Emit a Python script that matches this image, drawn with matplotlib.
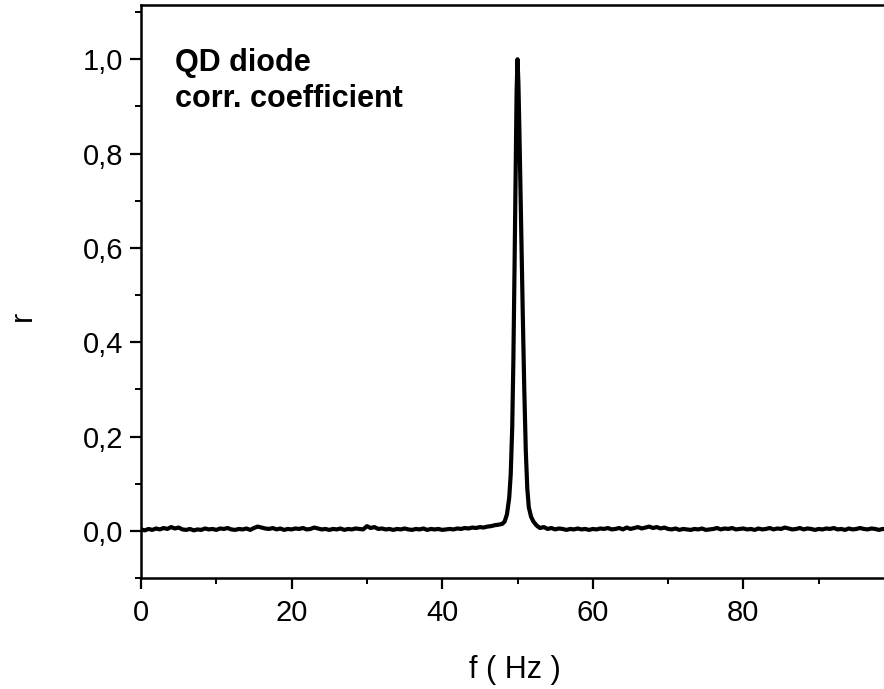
import numpy as np
import matplotlib.pyplot as plt
from matplotlib.ticker import MultipleLocator, FixedLocator, FuncFormatter

# baseline of the correlation coefficient, 0.5 Hz steps
base_left_start = 0.0
base_left = [
    0.003, 0.001, 0.004, 0.002, 0.005, 0.003, 0.006, 0.004, 0.008, 0.005,
    0.007, 0.003, 0.002, 0.004, 0.001, 0.003, 0.002, 0.005, 0.003, 0.004,
    0.002, 0.005, 0.004, 0.006, 0.003, 0.002, 0.004, 0.003, 0.005, 0.002,
    0.006, 0.009, 0.007, 0.005, 0.004, 0.006, 0.003, 0.005, 0.002, 0.004,
    0.003, 0.005, 0.004, 0.006, 0.003, 0.004, 0.007, 0.005, 0.003, 0.004,
    0.002, 0.004, 0.003, 0.005, 0.002, 0.004, 0.003, 0.005, 0.004, 0.003,
    0.010, 0.006, 0.008, 0.004, 0.005, 0.003, 0.004, 0.002, 0.004, 0.003,
    0.005, 0.003, 0.002, 0.004, 0.003, 0.005, 0.002, 0.004, 0.003, 0.004,
    0.002, 0.003, 0.004, 0.003, 0.005, 0.004, 0.006, 0.005, 0.007, 0.006,
    0.008, 0.007, 0.009, 0.010, 0.012, 0.013, 0.015,
]

# resonance peak around 50 Hz
peak_f = [48.3, 48.6, 48.9, 49.1, 49.3, 49.45, 49.6, 49.75, 49.88, 50.0,
          50.12, 50.25, 50.4, 50.55, 50.7, 50.9, 51.1, 51.3, 51.5, 51.8,
          52.1, 52.5, 52.8]
peak_r = [0.020, 0.035, 0.07, 0.12, 0.22, 0.36, 0.55, 0.76, 0.93, 1.0,
          0.95, 0.85, 0.72, 0.60, 0.46, 0.30, 0.17, 0.09, 0.05, 0.03,
          0.02, 0.012, 0.008]

base_right_start = 53.0
base_right = [
    0.006, 0.008, 0.004, 0.006, 0.003, 0.005, 0.004, 0.002, 0.004, 0.003,
    0.005, 0.003, 0.004, 0.002, 0.004, 0.003, 0.005, 0.004, 0.006, 0.003,
    0.004, 0.006, 0.003, 0.007, 0.004, 0.006, 0.008, 0.005, 0.007, 0.009,
    0.006, 0.008, 0.005, 0.007, 0.004, 0.003, 0.005, 0.002, 0.004, 0.003,
    0.002, 0.004, 0.003, 0.005, 0.002, 0.003, 0.004, 0.006, 0.003, 0.005,
    0.004, 0.006, 0.003, 0.004, 0.005, 0.003, 0.004, 0.002, 0.005, 0.003,
    0.004, 0.006, 0.003, 0.005, 0.004, 0.007, 0.005, 0.003, 0.004, 0.006,
    0.003, 0.005, 0.004, 0.002, 0.004,
    0.003, 0.005, 0.004, 0.006, 0.003, 0.004, 0.002, 0.005, 0.003, 0.004,
    0.006, 0.004, 0.003, 0.005, 0.004, 0.002, 0.004, 0.003, 0.005, 0.004,
]

x_major = [0, 20, 40, 60, 80]


def main():
    plt.rcParams['font.family'] = ['Liberation Sans', 'DejaVu Sans']

    f_left = base_left_start + 0.5 * np.arange(len(base_left))
    f_right = base_right_start + 0.5 * np.arange(len(base_right))
    freq = np.concatenate([f_left, peak_f, f_right])
    r = np.concatenate([base_left, peak_r, base_right])

    fig = plt.figure(figsize=(8.84, 6.89), dpi=100)
    ax = fig.add_axes([141 / 884, 111 / 689, 753 / 884, 573 / 689])
    ax.plot(freq, r, color='black', lw=3.0)

    ax.set_xlim(0, 100)
    ax.set_ylim(-0.1, 1.115)
    ax.xaxis.set_major_locator(FixedLocator(x_major))
    ax.xaxis.set_minor_locator(MultipleLocator(10))
    ax.yaxis.set_major_locator(MultipleLocator(0.2))
    ax.yaxis.set_minor_locator(MultipleLocator(0.1))
    ax.yaxis.set_major_formatter(FuncFormatter(lambda v, p: f"{v:.1f}".replace('.', ',')))

    for s in ax.spines.values():
        s.set_linewidth(1.8)
    ax.spines['right'].set_visible(False)
    ax.tick_params(which='major', direction='out', length=8, width=1.6,
                   labelsize=21)
    ax.tick_params(axis='x', which='major', pad=7)
    ax.tick_params(axis='y', which='major', pad=5)
    ax.tick_params(which='minor', direction='out', length=4.5, width=1.4)

    ax.set_xlabel("f ( Hz )", fontsize=22)
    ax.xaxis.set_label_coords(374 / 753, -77 / 573)
    ax.set_ylabel("r", fontsize=22)
    ax.yaxis.set_label_coords(-103 / 753, 262 / 573)

    ax.text(34 / 753, 530 / 573, "QD diode\ncorr. coefficient", transform=ax.transAxes,
            fontsize=22, fontweight='bold', va='top', ha='left', linespacing=1.25)

    fig.savefig("out.png", dpi=100)


if __name__ == '__main__':
    main()
